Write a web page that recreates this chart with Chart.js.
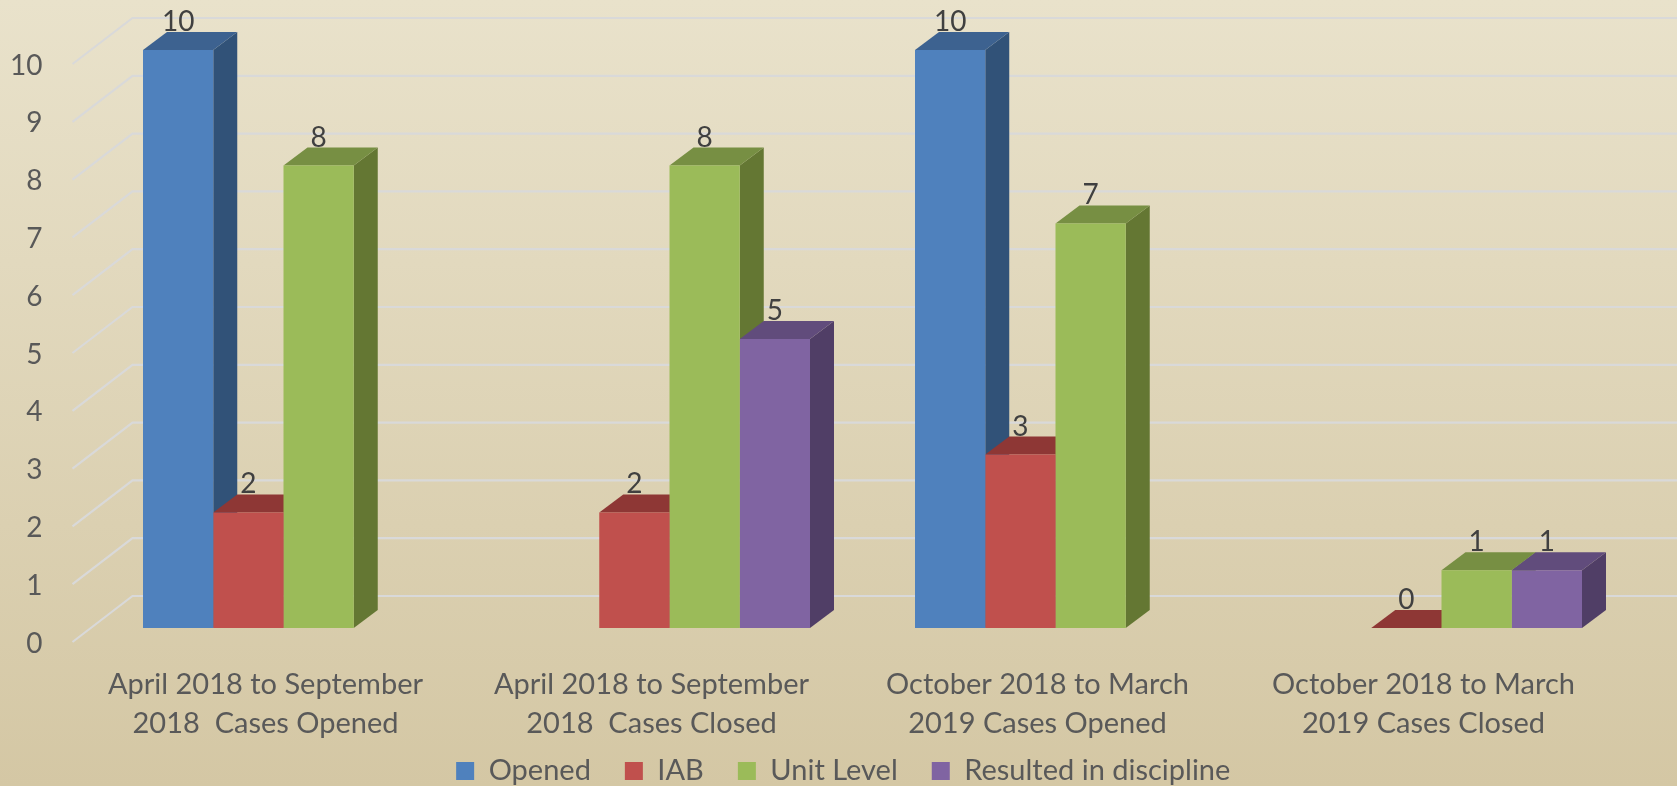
<!DOCTYPE html>
<html>
<head>
<meta charset="utf-8">
<title>Cases chart</title>
<script src="https://cdn.jsdelivr.net/npm/chart.js@4"></script>
<style>
  html, body { margin: 0; padding: 0; }
  body { width: 1677px; height: 786px; overflow: hidden; background: linear-gradient(180deg, #e9e2cb 0%, #d4c7a4 100%); }
  canvas { display: block; }
</style>
</head>
<body>
<canvas id="casesChart" width="1677" height="786"></canvas>
<script>
const categories = [
  ['April 2018 to September', '2018  Cases Opened'],
  ['April 2018 to September', '2018  Cases Closed'],
  ['October 2018 to March', '2019 Cases Opened'],
  ['October 2018 to March', '2019 Cases Closed'],
];
const opened = [10, null, 10, null];
const iab = [2, 2, 3, 0];
const unitLevel = [8, 8, 7, 1];
const discipline = [null, 5, null, 1];

const FONT = 'Lato, "Open Sans", sans-serif';
const TEXT_COLOR = '#595959';
const VALUE_COLOR = '#404040';
const GRID_COLOR = '#d9d9d9';

// bar depth, and how far the floor runs in front of and behind the bars
const BAR_DX = 24;
const BAR_DY = 18;
const FLOOR_FRONT = { dx: -18, dy: 14 };
const FLOOR_BACK = { dx: 42, dy: -32 };

const wall3d = {
  id: 'wall3d',
  // legend sits over the bottom of the tall x axis, so let the labels paint past the scale box
  afterLayout(chart) {
    chart.scales.x.bottom = chart.height;
    chart.legend.left += 26;
    chart.legend.right += 26;
    chart.legend.top = 722.5;
  },
  beforeDatasetsDraw(chart) {
    const { ctx, chartArea, scales } = chart;
    ctx.save();
    ctx.strokeStyle = GRID_COLOR;
    ctx.lineWidth = 2.2;
    scales.y.ticks.forEach(tick => {
      const y = scales.y.getPixelForValue(tick.value);
      ctx.beginPath();
      ctx.moveTo(chartArea.left + FLOOR_FRONT.dx, y + FLOOR_FRONT.dy);
      ctx.lineTo(chartArea.left + FLOOR_BACK.dx, y + FLOOR_BACK.dy);
      ctx.lineTo(chart.width, y + FLOOR_BACK.dy);
      ctx.stroke();
    });
    ctx.restore();
  },
};

const polygon = (ctx, color, points) => {
  ctx.fillStyle = color;
  ctx.beginPath();
  points.forEach(([x, y], i) => (i ? ctx.lineTo(x, y) : ctx.moveTo(x, y)));
  ctx.closePath();
  ctx.fill();
};

// the library draws the bar fronts, this adds the side and top faces behind them
const bars3d = {
  id: 'bars3d',
  beforeDatasetsDraw(chart) {
    const { ctx } = chart;
    chart.data.datasets.forEach((dataset, d) => {
      chart.getDatasetMeta(d).data.forEach((bar, i) => {
        if (dataset.data[i] === null) return;
        const left = bar.x - bar.width / 2;
        const right = bar.x + bar.width / 2;
        polygon(ctx, dataset.sideColor, [
          [right, bar.y],
          [right + BAR_DX, bar.y - BAR_DY],
          [right + BAR_DX, bar.base - BAR_DY],
          [right, bar.base],
        ]);
        polygon(ctx, dataset.topColor, [
          [left, bar.y],
          [left + BAR_DX, bar.y - BAR_DY],
          [right + BAR_DX, bar.y - BAR_DY],
          [right, bar.y],
        ]);
      });
    });
  },
  afterDatasetsDraw(chart) {
    const { ctx } = chart;
    ctx.save();
    ctx.fillStyle = VALUE_COLOR;
    ctx.font = `28px ${FONT}`;
    ctx.textAlign = 'center';
    ctx.textBaseline = 'middle';
    chart.data.datasets.forEach((dataset, d) => {
      chart.getDatasetMeta(d).data.forEach((bar, i) => {
        if (dataset.data[i] === null) return;
        ctx.fillText(dataset.data[i], bar.x, bar.y - 28);
      });
    });
    ctx.restore();
  },
};

const buildDataset = (label, data, color, sideColor, topColor) => ({
  label,
  data,
  backgroundColor: color,
  sideColor,
  topColor,
  categoryPercentage: 281 / 386,
  barPercentage: 1,
});

document.addEventListener('DOMContentLoaded', () => {
  new Chart(document.getElementById('casesChart').getContext('2d'), {
    type: 'bar',
    data: {
      labels: categories,
      datasets: [
        buildDataset('Opened', opened, '#4f81bd', '#315278', '#3d6290'),
        buildDataset('IAB', iab, '#c0504d', '#7a3230', '#8e3735'),
        buildDataset('Unit Level', unitLevel, '#9bbb59', '#647733', '#778f43'),
        buildDataset('Resulted in discipline', discipline, '#8064a2', '#503e66', '#614c7c'),
      ],
    },
    plugins: [wall3d, bars3d],
    options: {
      responsive: false,
      animation: false,
      layout: { padding: { top: 50, left: 0, right: 42.5, bottom: 0 } },
      plugins: {
        tooltip: { enabled: false },
        legend: {
          position: 'bottom',
          labels: {
            boxWidth: 18,
            boxHeight: 18,
            padding: 34,
            color: TEXT_COLOR,
            font: { family: FONT, size: 29 },
          },
        },
      },
      scales: {
        x: {
          afterFit: scale => { scale.height = 85; },
          grid: { display: false, drawTicks: false },
          border: { display: false },
          ticks: {
            autoSkip: false,
            maxRotation: 0,
            padding: 38,
            labelOffset: -18,
            color: TEXT_COLOR,
            font: { family: FONT, size: 29, lineHeight: 1.32 },
          },
        },
        y: {
          min: 0,
          max: 10,
          afterFit: scale => {
            scale.width = 90.5;
            scale.paddingTop = 0;
            scale.paddingBottom = 0;
          },
          grid: { display: false, drawTicks: false },
          border: { display: false },
          ticks: {
            stepSize: 1,
            padding: 48,
            labelOffset: 15.5,
            color: TEXT_COLOR,
            font: { family: FONT, size: 28 },
          },
        },
      },
    },
  });
});
</script>
</body>
</html>
